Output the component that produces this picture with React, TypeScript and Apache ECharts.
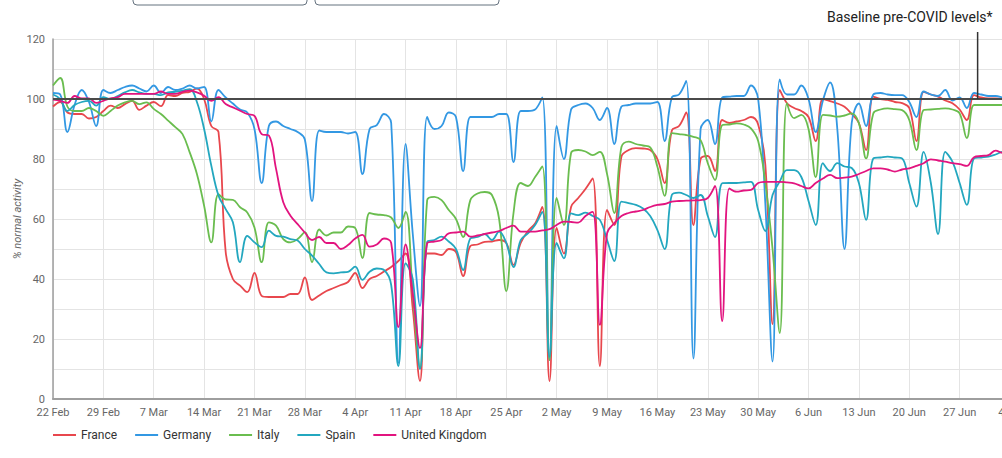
import React, { useEffect, useRef } from "react";
import * as echarts from "echarts";

const MONTHS = ["Jan", "Feb", "Mar", "Apr", "May", "Jun", "Jul"];
const START_UTC = Date.UTC(2020, 1, 22);
const DAY_COUNT = 134;
const categories: string[] = Array.from({ length: DAY_COUNT }, (_, i) => {
  const d = new Date(START_UTC + i * 86400000);
  return `${d.getUTCDate()} ${MONTHS[d.getUTCMonth()]}`;
});

const seriesNames = ["France", "Germany", "Italy", "Spain", "United Kingdom"];
const seriesColors = ["#e8474d", "#3398e3", "#6abd4f", "#23a7bf", "#e2147f"];

const france = [
  97.5, 99, 95.5, 95, 95, 93.5, 94, 96, 97.8, 97, 98.3, 99.4, 96.4, 97.8, 99, 97.6, 101.3, 101, 102, 102.4,
  103.5, 100, 91, 89, 49, 40, 37.8, 35.6, 42, 34.4, 34, 34, 34, 35, 35, 40.5, 33, 34.5, 36, 37,
  38, 39, 42, 37, 40, 41, 42.5, 44, 46, 48.5, 30, 6, 48.5, 48.5, 48, 50, 49, 41, 51, 51.5,
  52.4, 52.5, 53, 52, 44.7, 52, 56, 58.5, 64, 6, 57, 48.5, 64, 67, 70, 73.5, 11, 63, 58, 80.8,
  83, 83.6, 83.5, 83, 80, 72, 89.5, 91, 95.5, 58, 80, 81, 76, 93, 92, 92.5, 93, 94, 91.5, 78,
  25, 103, 98.6, 97, 96, 94, 86, 100, 99.3, 98.5, 97.4, 95, 92, 83, 100.8, 100, 99.7, 99, 98.6, 97,
  86, 102.4, 101.5, 100.8, 99.5, 98.6, 96.5, 93, 101.3, 100.5, 100.2, 100.2, 100, 100,
];

const germany = [
  102, 101.5, 89, 98, 103, 99, 91, 103, 102, 103, 104, 104.5, 103.5, 102.5, 104.5, 102, 104, 103, 103.5, 104.5,
  103.5, 104, 92.5, 103, 100.5, 98.5, 96.5, 95.5, 90, 72, 91, 92.5, 91, 90, 89, 86.5, 66, 89.5, 89, 89,
  89, 88.5, 89, 75, 90, 91.3, 95, 92, 12, 85, 55, 31, 94, 90, 91, 95.5, 94, 76, 94, 94,
  94, 94, 95, 95, 79, 96, 96, 96.5, 100.5, 13, 91, 80, 96.5, 98, 98.5, 97, 93, 97, 85, 97.5,
  98, 98.5, 98.5, 98.5, 99, 86, 100.5, 101.5, 106, 13.5, 90, 93, 85, 100.5, 100.8, 101, 101, 104.5, 100, 65,
  12.5, 106.5, 101.5, 101.5, 104.5, 100, 89, 99.5, 105.5, 90, 50, 92, 98.5, 91, 101.5, 102, 101.5, 101.3, 101.3, 99,
  94, 102.5, 101.5, 101, 103, 99.5, 100.5, 97, 102, 101.5, 101, 101, 100.5, 100,
];

const italy = [
  104.5, 107, 97.5, 96, 96, 97, 96, 94.4, 96, 97.8, 98.9, 99.4, 98.3, 98.9, 96.7, 95, 92.8, 90.6, 88.3, 82.2,
  75, 64.4, 52.2, 68.3, 66.5, 66.4, 63.9, 62.2, 57.2, 45.6, 58.9, 57.8, 53.3, 52.2, 53.3, 55.6, 45.6, 56.5, 54.5, 55.5,
  55.5, 57.5, 57, 47, 62, 61.5, 61.3, 60.5, 57, 62.4, 35, 10.5, 66.3, 67.4, 66.3, 63, 60, 54, 66.3, 68.5,
  69, 68, 60, 36, 62, 72, 71, 74, 77.5, 13, 67, 58, 82, 83, 82.5, 81.3, 82.4, 75, 62, 84,
  85.8, 85, 84.5, 83.9, 77.4, 67.7, 88.6, 88.3, 88, 87.4, 86.3, 78.6, 73, 91.3, 91.5, 91.9, 91.5, 90.2, 86, 72,
  50, 22, 98.6, 93.6, 94.7, 90, 74, 94.7, 94.5, 94.1, 94.5, 95.2, 91.9, 80.2, 95.2, 96.5, 96.9, 96.6, 96.3, 93,
  83, 96.3, 96.5, 96.7, 96.9, 96.5, 95.2, 87, 98, 98, 98, 98, 98, 98,
];

const spain = [
  101.5, 100, 96, 98, 99, 99.4, 97.8, 100.6, 100, 101, 102.2, 103, 102.2, 101.7, 101.7, 101.3, 102.2, 102.4, 102.8, 103.3,
  99, 90, 77.8, 67.8, 63.3, 58.9, 45.6, 54.4, 52.2, 50.6, 56.1, 54.4, 54.1, 53.3, 52.8, 50, 47.8, 45, 42.2, 41.9,
  42.2, 42.4, 44.1, 39.7, 42.4, 43.5, 43, 38, 11, 45.2, 40, 10, 52.4, 53, 54.1, 52.5, 50, 43, 53.5, 54,
  55, 53, 55.8, 52, 44, 53, 55.2, 58, 62.4, 14, 52, 46.9, 61.9, 61.3, 62.1, 61, 59.7, 53, 46, 65.8,
  65.3, 64.7, 63.5, 61, 56.3, 50, 68, 68.8, 68, 67, 68, 61, 54, 71.9, 72, 72, 72.2, 72.4, 63, 56,
  68, 72.5, 76.3, 76.3, 74, 66, 58, 78.6, 76, 78.6, 77.5, 77, 72, 59.7, 80.2, 80.5, 80.8, 80.5, 80.2, 72,
  64.1, 82.4, 72, 55, 82.4, 79.1, 72, 64.7, 80.2, 80.5, 80.8, 81.5, 82.4, 82,
];

const unitedKingdom = [
  99.8, 99.4, 98.7, 101, 100.2, 100.2, 98.7, 99.4, 100.2, 100.6, 101.7, 101.7, 101.7, 101.7, 101.7, 102.5, 101.7, 101.7, 102.4, 102.8,
  102.2, 101.1, 99.4, 100.6, 98.3, 97.2, 96.1, 95, 94.4, 88.3, 87.8, 76.7, 65.6, 61.1, 58.3, 55.5, 53, 54, 52, 52,
  50, 51.3, 53.5, 54.7, 50.8, 51.5, 53.5, 52, 24, 51.5, 35, 17, 51.9, 52.5, 53, 55.2, 55.5, 55.8, 54.1, 54.5,
  55, 55.5, 56, 57, 57.8, 55.8, 55.8, 55.8, 56.2, 56.6, 58, 59.1, 59, 58.8, 61, 62.4, 24.7, 55.2, 58.6, 61,
  62, 62.5, 63, 64, 64.7, 65, 65.8, 66, 66.1, 66.2, 66.3, 67, 71, 26, 70.2, 69.1, 69.5, 69.7, 72, 72.4,
  72.4, 72.4, 72.2, 71.9, 71, 70.2, 72, 73.5, 74.7, 73.6, 73.8, 74.1, 75, 76, 76.9, 76.9, 76.5, 75.8, 76.5, 76.9,
  77.7, 78.6, 79.9, 79.5, 79.1, 78.6, 78.3, 77.7, 80.6, 81, 81.3, 82.8, 82, 81.9,
];

const seriesData = [france, germany, italy, spain, unitedKingdom];

const BASELINE = 100;
const ANNOTATION_DAY_A = 128;
const ANNOTATION_DAY_B = 129;
const ANNOTATION_TEXT = "Baseline pre-COVID levels*";
const Y_NAME = "% normal activity";

export default function App() {
  const ref = useRef<HTMLDivElement>(null);

  useEffect(() => {
    if (!ref.current) return;
    const chart = echarts.init(ref.current, null, { renderer: "svg" });
    const series: any[] = seriesNames.map((name, k) => ({
      name,
      type: "line",
      data: seriesData[k],
      smooth: 0.4,
      symbol: "none",
      showSymbol: false,
      lineStyle: { width: 1.8, color: seriesColors[k] },
      itemStyle: { color: seriesColors[k] },
      emphasis: { disabled: true },
    }));
    series[0].markLine = {
      silent: true,
      symbol: "none",
      label: { show: false },
      lineStyle: { color: "#4a4a4a", width: 2, type: "solid" },
      data: [{ yAxis: BASELINE }],
      z: 10,
    };
    chart.setOption({
      animation: false,
      backgroundColor: "#ffffff",
      textStyle: { fontFamily: "Roboto" },
      grid: { left: 53, right: 50, top: 39, bottom: 59 },
      legend: {
        left: 53,
        top: 429,
        padding: 0,
        icon: "rect",
        itemWidth: 23,
        itemHeight: 2,
        itemGap: 18,
        textStyle: { fontSize: 12, color: "#333", fontFamily: "Roboto" },
        data: seriesNames,
      },
      xAxis: {
        type: "category",
        data: categories,
        boundaryGap: false,
        axisLine: { lineStyle: { color: "#9e9e9e", width: 2 } },
        axisTick: { show: false },
        axisLabel: {
          interval: (i: number) => i % 7 === 0,
          color: "#666",
          fontSize: 11,
          margin: 8,
          fontFamily: "Roboto",
        },
        splitLine: {
          show: true,
          interval: (i: number) => i % 7 === 0,
          lineStyle: { color: "#e4e4e4", width: 1 },
        },
      },
      yAxis: {
        type: "value",
        min: 0,
        max: 120,
        interval: 10,
        name: Y_NAME,
        nameLocation: "middle",
        nameGap: 30,
        nameMoveOverlap: false,
        nameTextStyle: { fontStyle: "italic", fontSize: 11, color: "#666", fontFamily: "Roboto" },
        axisLine: { show: true, lineStyle: { color: "#9e9e9e", width: 1.5 } },
        axisTick: { show: false },
        axisLabel: {
          color: "#666",
          fontSize: 11,
          margin: 8,
          fontFamily: "Roboto",
          formatter: (v: number) => (v % 20 === 0 ? String(v) : ""),
        },
        splitLine: { lineStyle: { color: "#e4e4e4", width: 1 } },
      },
      series,
    });

    const pa = chart.convertToPixel({ xAxisIndex: 0, yAxisIndex: 0 }, [ANNOTATION_DAY_A, BASELINE]) as number[];
    const pb = chart.convertToPixel({ xAxisIndex: 0, yAxisIndex: 0 }, [ANNOTATION_DAY_B, BASELINE]) as number[];
    const ax = (pa[0] + pb[0]) / 2;
    chart.setOption({
      graphic: [
        {
          type: "rect",
          shape: { x: 133, y: -10, width: 174, height: 15, r: 4 },
          style: { fill: "#fff", stroke: "#65727f", lineWidth: 1 },
        },
        {
          type: "rect",
          shape: { x: 315, y: -10, width: 184, height: 15, r: 4 },
          style: { fill: "#fff", stroke: "#65727f", lineWidth: 1 },
        },
        {
          type: "line",
          shape: { x1: ax, y1: 32, x2: ax, y2: pa[1] },
          style: { stroke: "#333", lineWidth: 1.5 },
          z: 20,
        },
        {
          type: "text",
          x: ax + 15,
          y: 17,
          style: {
            text: ANNOTATION_TEXT,
            fill: "#222",
            fontSize: 14,
            fontFamily: "Roboto",
            align: "right",
            verticalAlign: "middle",
          },
        },
      ],
    });

    return () => chart.dispose();
  }, []);

  return (
    <div
      style={{
        position: "fixed",
        left: 0,
        top: 0,
        width: 1002,
        height: 458,
        overflow: "hidden",
        background: "#fff",
      }}
    >
      <div ref={ref} style={{ width: 1060, height: 458 }} />
    </div>
  );
}
